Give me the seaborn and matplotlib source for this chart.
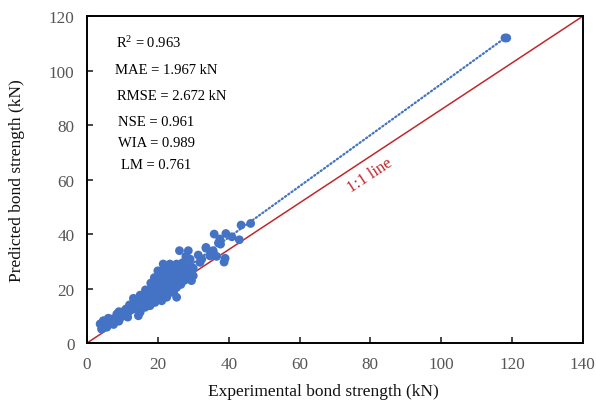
import matplotlib
matplotlib.use("Agg")
import matplotlib.pyplot as plt
import seaborn as sns
import numpy as np
import pandas as pd

# ---- data ----
exp_strength = [3.7, 4.1, 4.6, 5.0, 5.6, 6.0, 6.5, 7.0, 7.5, 8.4, 9.0, 9.3, 10.2, 10.7, 11.0, 11.5,
                 12.1, 12.6, 13.1, 13.5, 14.0, 14.5, 15.0, 15.0, 15.5, 15.9, 16.4, 16.8, 17.3, 17.8,
                 18.0, 18.3, 18.7, 19.2, 19.0, 19.7, 20.0, 20.6, 20.6, 20.6, 21.1, 21.5, 21.0, 22.0,
                 22.0, 22.5, 22.5, 23.0, 23.4, 23.4, 23.9, 24.0, 24.8, 25.3, 25.3, 25.5, 26.0, 26.7,
                 26.5, 27.1, 27.5, 28.1, 28.5, 29.1, 29.5, 29.5, 30.0, 21.5, 23.4, 25.3, 26.1, 27.9,
                 28.6, 29.1, 31.4, 31.9, 32.4, 33.6, 33.6, 34.7, 35.2, 35.6, 35.6, 35.9, 36.6, 37.1,
                 37.5, 37.7, 38.7, 39.0, 39.2, 40.9, 43.0, 43.5, 46.2, 118.0, 118.5,
                 16.0, 17.0, 18.0, 19.0, 19.5, 20.0, 20.5, 21.0, 21.5, 22.0, 22.5, 23.0, 24.0, 24.5,
                 21.0, 22.0, 18.5, 17.0, 19.0, 20.0, 21.5, 23.0, 24.0, 25.0, 26.0, 27.0, 20.0, 19.0,
                 18.0, 16.5, 12.0, 13.0, 11.0, 10.0, 8.0, 6.0, 9.0, 14.0, 15.0, 24.5, 26.0, 28.0,
                 30.0, 27.0]
pred_strength = [7.0, 5.1, 8.2, 6.5, 5.8, 9.1, 7.5, 8.8, 6.8, 10.6, 8.0, 9.1, 11.5, 10.0, 12.5, 9.5,
                 11.9, 13.7, 16.4, 14.9, 12.5, 10.0, 11.3, 17.6, 13.0, 14.9, 13.1, 15.5, 18.0, 13.7,
                 16.5, 19.8, 21.7, 14.9, 18.0, 17.4, 20.5, 19.2, 23.5, 17.4, 15.5, 21.0, 22.5, 25.3,
                 19.5, 16.8, 22.0, 20.5, 25.9, 24.0, 18.6, 22.5, 24.7, 20.4, 16.8, 23.0, 25.5, 24.7,
                 21.5, 26.5, 23.0, 27.2, 25.0, 28.4, 26.5, 22.9, 24.7, 29.0, 29.0, 29.0, 33.9, 31.8,
                 33.9, 30.8, 32.3, 29.6, 30.8, 34.8, 35.1, 32.0, 32.7, 33.9, 33.5, 40.0, 31.8, 36.7,
                 38.2, 36.3, 29.7, 31.1, 40.2, 39.0, 37.9, 43.3, 43.9, 112.0, 112.0,
                 17.0, 19.0, 20.0, 21.0, 22.5, 24.0, 26.0, 24.5, 27.0, 28.0, 26.5, 27.0, 26.5, 28.0,
                 18.0, 23.5, 17.0, 16.5, 19.5, 21.5, 20.0, 23.5, 20.0, 22.0, 23.5, 25.0, 26.5, 24.0,
                 22.0, 19.5, 14.0, 12.5, 11.0, 10.0, 9.0, 7.5, 11.5, 15.5, 16.0, 19.0, 27.0, 24.0,
                 27.5, 29.5]

trend_slope = 0.939
trend_intercept = 1.2
diag_end = [140, 120]   # red reference line drawn corner to corner

stat_labels = ["R$^2$ = 0.963", "MAE = 1.967 kN", "RMSE = 2.672 kN",
               "NSE = 0.961", "WIA = 0.989", "LM = 0.761"]

x_ticks = [0, 20, 40, 60, 80, 100, 120, 140]
y_ticks = [0, 20, 40, 60, 80, 100, 120]

x_label = "Experimental bond strength (kN)"
y_label = "Predicted bond strength (kN)"

# ---- style ----
sns.set_style("ticks")
plt.rcParams["font.family"] = ["Liberation Serif", "DejaVu Serif"]
plt.rcParams["mathtext.fontset"] = "custom"
plt.rcParams["mathtext.rm"] = "Liberation Serif"
plt.rcParams["mathtext.it"] = "Liberation Serif:italic"

blue = "#4472C4"
red = "#C0282D"

fig = plt.figure(figsize=(5.96, 4.06), dpi=100)
ax = fig.add_axes([0.146, 0.1527, 0.832, 0.805])

df = pd.DataFrame({"exp": exp_strength, "pred": pred_strength})

# red reference line
ax.plot([0, diag_end[0]], [0, diag_end[1]], color=red, lw=1.1, zorder=1)

# dotted trendline
xt = np.array([min(exp_strength), max(exp_strength)])
ax.plot(xt, trend_slope * xt + trend_intercept, color=blue, lw=1.6,
        linestyle=(0, (0.6, 1.2)), dash_capstyle="round", zorder=2)

sns.scatterplot(data=df, x="exp", y="pred", ax=ax, color=blue, s=40,
                edgecolor="none", linewidth=0, zorder=3)

ax.set_xlim(0, 140)
ax.set_ylim(0, 120)
ax.set_xticks(x_ticks)
ax.set_yticks(y_ticks)
ax.tick_params(direction="in", length=4, width=1.2, labelsize=12.3,
               labelcolor="#555555", pad=9)
for s in ax.spines.values():
    s.set_linewidth(1.4)
    s.set_color("black")
    s.set_visible(True)

ax.set_xlabel("")
ax.set_ylabel("")
fig.text(323 / 596, (406 - 392) / 406, x_label, fontsize=12.5,
         ha="center", va="center", color="#111111")
fig.text(17 / 596, (406 - 181) / 406, y_label, fontsize=12.5, rotation=90,
         ha="center", va="center", color="#111111")

# stats text
stat_x = [8.2, 8.0, 8.5, 8.8, 8.8, 9.6]
stat_y = [110.5, 100.6, 91.0, 81.5, 73.8, 65.7]
for tx, ty, t in zip(stat_x, stat_y, stat_labels):
    ax.text(tx, ty, t, fontsize=10.5, va="center", ha="left", color="black")

ax.text(79.9, 61.8, "1:1 line", color=red, fontsize=12, rotation=33.4,
        rotation_mode="anchor", ha="center", va="center")

fig.savefig("out.png", dpi=100)
